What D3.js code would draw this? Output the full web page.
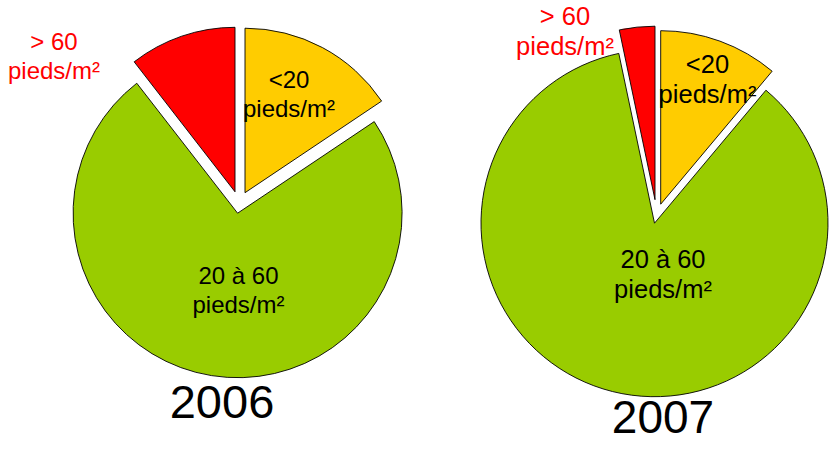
<!DOCTYPE html>
<html>
<head>
<meta charset="utf-8">
<script src="https://cdn.jsdelivr.net/npm/d3@7/dist/d3.min.js"></script>
<style>
  body { margin: 0; background: #fff; }
  text { font-family: "Liberation Sans", Arial, sans-serif; }
</style>
</head>
<body>
<div id="chart"></div>
<script>
// data (share of the field, %)
var categories = ["<20 pieds/m²", "20 à 60 pieds/m²", "> 60 pieds/m²"]
var labelLines = [["<20", "pieds/m²"], ["20 à 60", "pieds/m²"], ["> 60", "pieds/m²"]]
var years = ["2006", "2007"]
var values2006 = [15.6, 73.9, 10.5]
var values2007 = [11.1, 85.6, 3.3]

var colors = ["#FFCC00", "#99CC00", "#FF0000"]
var labelColors = ["#000", "#000", "#FF0000"]

// layout of each pie: centre, radius, how far each slice is pulled out, label spots
var layouts = [
  { cx: 237.6, cy: 213.2, r: 164.5, font: 24, yearFont: 47,
    explode: [[7.4, -20.5], [0, 0], [-2.6, -21.4]],
    labels: [[289, 88], [238.5, 284], [54, 50]], lineGap: 29,
    year: [222, 418] },
  { cx: 654.5, cy: 223.2, r: 173.5, font: 25.5, yearFont: 46,
    explode: [[6.2, -19], [0, 0], [0.5, -23.5]],
    labels: [[707.5, 72.7], [663, 268], [565, 25]], lineGap: 30,
    year: [663, 433] }
]
var allValues = [values2006, values2007]

var width = 834, height = 450

var svg = d3.select("#chart")
  .append("svg")
    .attr("width", width)
    .attr("height", height)

var pie = d3.pie().sort(null).value(function(d) { return d })

years.forEach(function(year, k) {
  var L = layouts[k]
  var arcs = pie(allValues[k])
  var arc = d3.arc().innerRadius(0).outerRadius(L.r)

  var g = svg.append("g")
    .attr("transform", "translate(" + L.cx + "," + L.cy + ")")

  g.selectAll("path")
    .data(arcs)
    .enter()
    .append("path")
      .attr("d", arc)
      .attr("transform", function(d, i) {
        return "translate(" + L.explode[i][0] + "," + L.explode[i][1] + ")"
      })
      .attr("fill", function(d, i) { return colors[i] })
      .attr("stroke", "#000")
      .attr("stroke-width", 0.9)
      .attr("stroke-linejoin", "miter")
      .attr("stroke-miterlimit", 10)

  // slice labels, two lines each
  categories.forEach(function(c, i) {
    var t = svg.append("text")
      .attr("x", L.labels[i][0])
      .attr("y", L.labels[i][1])
      .attr("text-anchor", "middle")
      .attr("font-size", L.font)
      .attr("fill", labelColors[i])
    labelLines[i].forEach(function(line, j) {
      t.append("tspan")
        .attr("x", L.labels[i][0])
        .attr("dy", j == 0 ? 0 : L.lineGap)
        .text(line)
    })
  })

  // year under the pie
  svg.append("text")
    .attr("x", L.year[0])
    .attr("y", L.year[1])
    .attr("text-anchor", "middle")
    .attr("font-size", L.yearFont)
    .attr("fill", "#000")
    .text(year)
})
</script>
</body>
</html>
